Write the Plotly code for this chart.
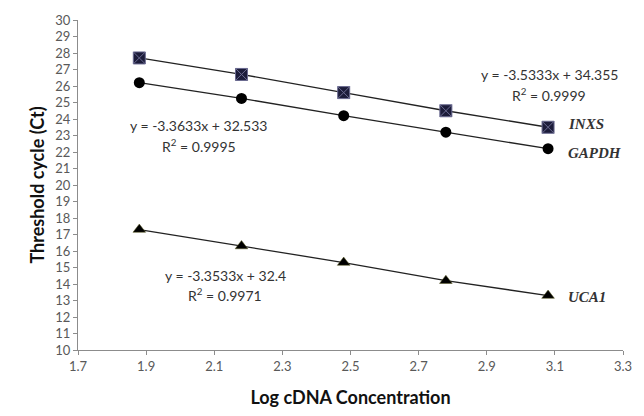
import plotly.graph_objects as go

log_conc = [1.88, 2.18, 2.48, 2.78, 3.08]
ct_inxs = [27.7, 26.7, 25.6, 24.5, 23.5]
ct_gapdh = [26.2, 25.25, 24.2, 23.2, 22.2]
ct_uca1 = [17.3, 16.3, 15.3, 14.2, 13.3]

x_ticks = [1.7, 1.9, 2.1, 2.3, 2.5, 2.7, 2.9, 3.1, 3.3]
y_ticks = list(range(10, 31))

fig = go.Figure()

fig.add_trace(go.Scatter(
    x=log_conc, y=ct_inxs, mode='lines+markers', name='INXS',
    line=dict(color='#222222', width=1.3),
    marker=dict(symbol='square-x', size=12, color='#1c1c3a',
                line=dict(color='#6a6a90', width=1))
))
fig.add_trace(go.Scatter(
    x=log_conc, y=ct_gapdh, mode='lines+markers', name='GAPDH',
    line=dict(color='#222222', width=1.3),
    marker=dict(symbol='circle', size=11, color='black')
))
fig.add_trace(go.Scatter(
    x=log_conc, y=ct_uca1, mode='lines+markers', name='UCA1',
    line=dict(color='#222222', width=1.3),
    marker=dict(symbol='triangle-up', size=11, color='black',
                line=dict(color='#5a5a20', width=0.5))
))

eq_font = dict(family='Lato, Open Sans, sans-serif', size=14, color='#333333')
gene_font = dict(family='Liberation Serif, serif', size=15, color='#333333')

notes = [
    (3.083, 26.72, 'y = -3.5333x + 34.355', 'center', eq_font),
    (3.083, 25.46, 'R<sup>2</sup> = 0.9999', 'center', eq_font),
    (2.054, 23.61, 'y = -3.3633x + 32.533', 'center', eq_font),
    (2.054, 22.42, 'R<sup>2</sup> = 0.9995', 'center', eq_font),
    (2.132, 14.54, 'y = -3.3533x + 32.4', 'center', eq_font),
    (2.132, 13.34, 'R<sup>2</sup> = 0.9971', 'center', eq_font),
    (3.132, 23.67, '<b><i>INXS</i></b>', 'left', gene_font),
    (3.132, 21.94, '<b><i>GAPDH</i></b>', 'left', gene_font),
    (3.132, 13.22, '<b><i>UCA1</i></b>', 'left', gene_font),
]
for x, y, t, anc, f in notes:
    fig.add_annotation(x=x, y=y, text=t, showarrow=False, xanchor=anc, font=f)

axis_common = dict(
    showgrid=False, zeroline=False, showline=True, linecolor='#8c8c8c',
    linewidth=1, ticks='outside', ticklen=4, tickcolor='#8c8c8c',
    tickfont=dict(family='Lato, Open Sans, sans-serif', size=13, color='#595959'),
)

fig.update_layout(
    width=644, height=416,
    margin=dict(l=78, r=16, t=12, b=66),
    paper_bgcolor='white', plot_bgcolor='white',
    showlegend=False,
    xaxis=dict(range=[1.7, 3.3], tickvals=x_ticks,
               ticktext=[f'{v:.1f}' for v in x_ticks],
               title=dict(text='<b>Log cDNA Concentration</b>', standoff=18,
                          font=dict(family='Lato, Open Sans, sans-serif', size=18, color='#111111')),
               **axis_common),
    yaxis=dict(range=[10, 30], tickvals=y_ticks,
               title=dict(text='<b>Threshold cycle (Ct)</b>', standoff=6,
                          font=dict(family='Lato, Open Sans, sans-serif', size=18, color='#111111')),
               **axis_common),
)

fig.write_html("out.html", config={'displayModeBar': False},
               post_script="document.body.style.margin='0';")
